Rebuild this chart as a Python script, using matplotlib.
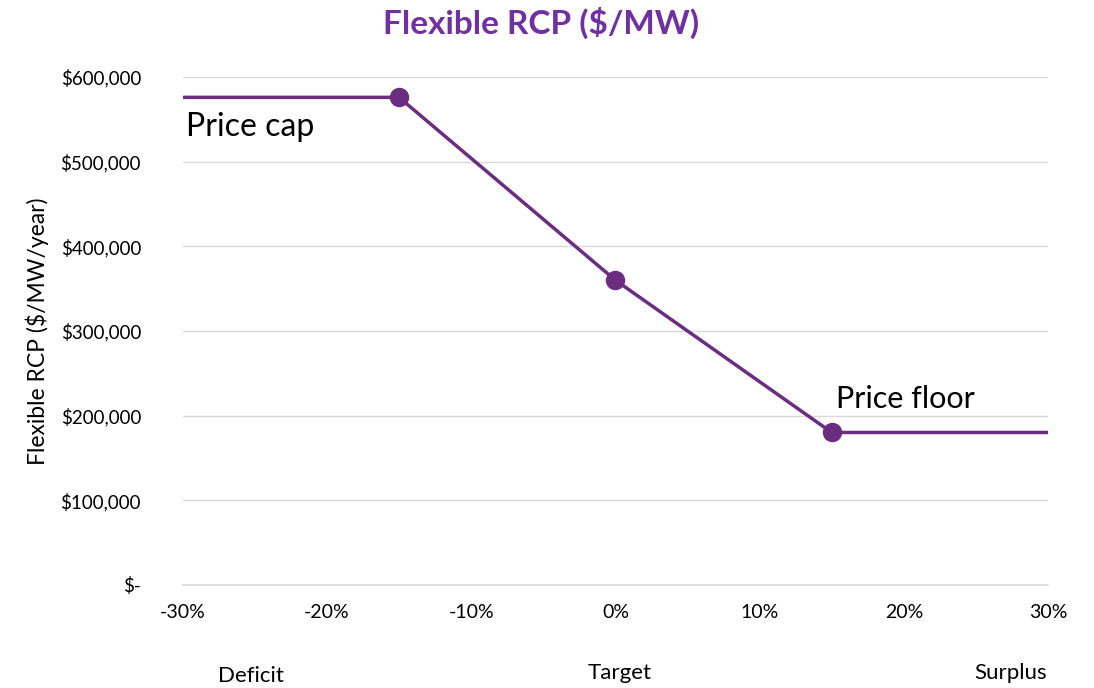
import matplotlib.pyplot as plt
from matplotlib.ticker import FuncFormatter

plt.rcParams['font.family'] = ['Lato', 'DejaVu Sans']

# data
x_pct = [-30, -15, 0, 15, 30]
rcp = [576000, 576000, 360000, 180000, 180000]
marker_x = [-15, 0, 15]
marker_y = [576000, 360000, 180000]
x_ticks = [-30, -20, -10, 0, 10, 20, 30]
y_ticks = [0, 100000, 200000, 300000, 400000, 500000, 600000]

purple = '#6B2D80'
title_purple = '#7030A0'

fig = plt.figure(figsize=(10.94, 6.88), dpi=100)
ax = fig.add_axes([0.167, 0.150, 0.791, 0.738])

ax.plot(x_pct, rcp, color=purple, lw=2.5, zorder=3)
ax.plot(marker_x, marker_y, 'o', color=purple, ms=13, zorder=4)

ax.set_xlim(-30, 30)
ax.set_ylim(0, 600000)
ax.set_xticks(x_ticks)
ax.set_yticks(y_ticks)
ax.xaxis.set_major_formatter(FuncFormatter(lambda v, p: '%d%%' % v))
ax.yaxis.set_major_formatter(FuncFormatter(lambda v, p: '$-' if v == 0 else '${:,.0f}'.format(v)))
ax.tick_params(length=0, labelsize=14)
ax.tick_params(axis='y', labelsize=13.5, pad=30)
ax.tick_params(axis='x', pad=14)
ax.grid(axis='y', color='#d9d9d9', lw=1)
ax.axhline(0, color='#d9d9d9', lw=1.2, zorder=1, clip_on=False)
ax.set_axisbelow(True)
for s in ax.spines.values():
    s.set_visible(False)

ax.set_ylabel('Flexible RCP ($/MW/year)', fontsize=16.5, labelpad=8)
fig.text(0.495, 0.967, 'Flexible RCP ($/MW)', ha='center', va='center',
         fontsize=24, fontweight='bold', color=title_purple)

ax.text(-29.8, 541000, 'Price cap', fontsize=23, va='center', ha='left')
ax.text(15.3, 219000, 'Price floor', fontsize=22, va='center', ha='left')

fig.text(0.229, 0.017, 'Deficit', ha='center', va='center', fontsize=16)
fig.text(0.566, 0.022, 'Target', ha='center', va='center', fontsize=16)
fig.text(0.924, 0.022, 'Surplus', ha='center', va='center', fontsize=16)

fig.savefig('out.png', dpi=100)
